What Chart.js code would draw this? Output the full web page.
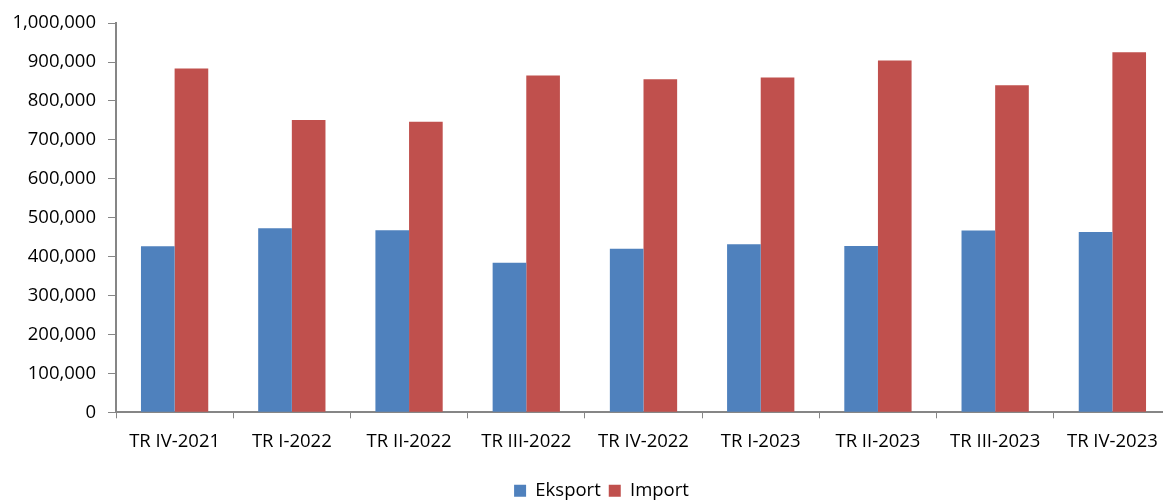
<!DOCTYPE html>
<html>
<head>
<meta charset="utf-8">
<script src="https://cdn.jsdelivr.net/npm/chart.js@4/dist/chart.umd.min.js"></script>
<style>
  html, body { margin: 0; padding: 0; background: #fff; overflow: hidden; }
  #wrap { width: 1171px; height: 510px; position: relative; }
</style>
</head>
<body>
<div id="wrap"><canvas id="myChart"></canvas></div>
<script>
// quarters shown on the x axis
const quarters = ["TR IV-2021", "TR I-2022", "TR II-2022", "TR III-2022", "TR IV-2022",
                  "TR I-2023", "TR II-2023", "TR III-2023", "TR IV-2023"];
// values
const eksport = [426500, 473000, 468000, 384000, 420000, 431500, 427000, 467000, 463000];
const importValues = [883500, 751000, 746500, 865500, 855500, 860500, 904000, 840000, 925000];
// y axis
const yMin = 0;
const yMax = 1000000;
const yStep = 100000;

const axisGrey = "#868686";
const fontFamily = "Open Sans";

// nudge the legend a bit to the right, like in the original
const shiftLegend = {
  id: 'shiftLegend',
  afterLayout(chart) {
    chart.legend.left += 16;
    chart.legend.right += 16;
  }
};

new Chart(document.getElementById("myChart"), {
  type: 'bar',
  data: {
    labels: quarters,
    datasets: [{
      label: "Eksport",
      backgroundColor: "#4F81BD",
      data: eksport
    }, {
      label: "Import",
      backgroundColor: "#C0504D",
      data: importValues
    }]
  },
  plugins: [shiftLegend],
  options: {
    responsive: true,
    maintainAspectRatio: false,
    animation: false,
    devicePixelRatio: 1,
    datasets: {
      bar: { barPercentage: 1, categoryPercentage: 0.574 }
    },
    layout: { padding: { top: 17, right: 0, left: 0, bottom: 0 } },
    scales: {
      x: {
        grid: { display: true, drawOnChartArea: false, color: axisGrey, tickLength: 6, offset: true },
        border: { color: axisGrey, width: 2 },
        ticks: { color: "#000", padding: 12, maxRotation: 0, autoSkip: false,
                 font: { family: fontFamily, size: 18.5 } },
        afterFit: scale => { scale.height += 9; }
      },
      y: {
        min: yMin,
        max: yMax,
        grid: { display: true, drawOnChartArea: false, color: axisGrey, tickLength: 8 },
        border: { color: axisGrey, width: 2 },
        ticks: {
          stepSize: yStep,
          color: "#000",
          padding: 12,
          font: { family: fontFamily, size: 18.5 },
          callback: v => v.toLocaleString('en-US')
        },
        afterFit: scale => { scale.width = 116; }
      }
    },
    plugins: {
      tooltip: { enabled: false },
      legend: {
        position: 'bottom',
        labels: {
          boxWidth: 12,
          boxHeight: 12,
          padding: 8,
          color: "#000",
          font: { family: fontFamily, size: 18.5 }
        }
      }
    }
  }
});
</script>
</body>
</html>
